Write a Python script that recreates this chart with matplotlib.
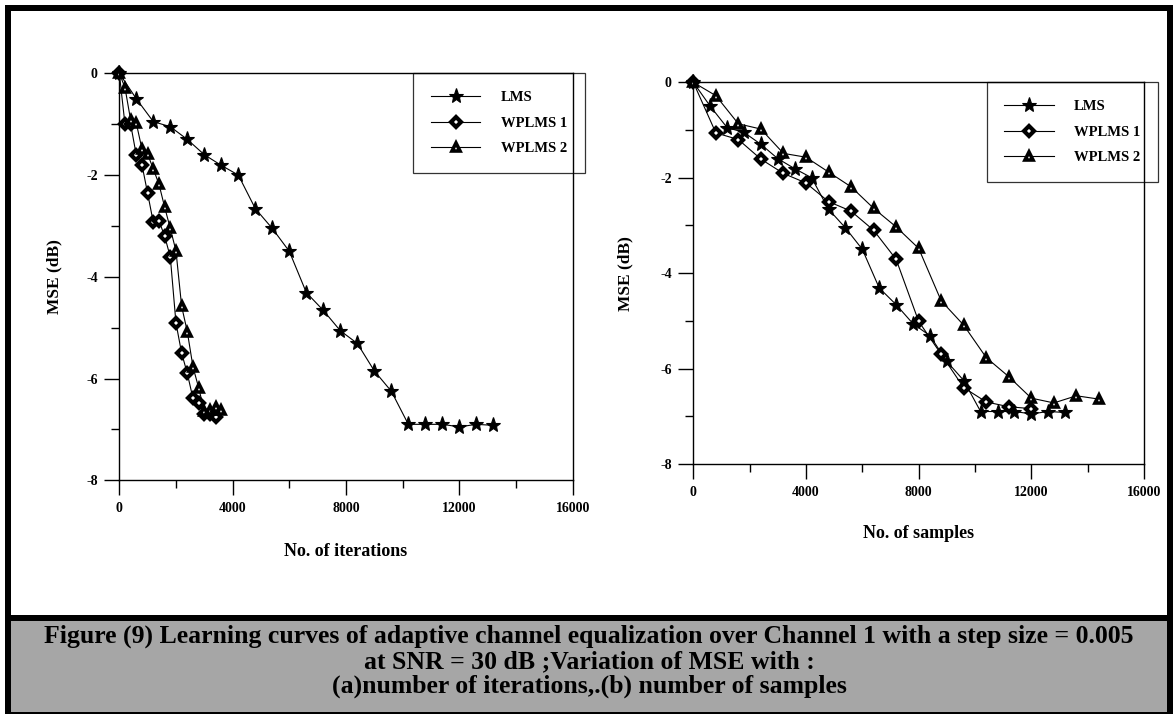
import matplotlib
matplotlib.use("Agg")
import matplotlib.pyplot as plt
from matplotlib.patches import Rectangle
from matplotlib.ticker import MultipleLocator

W, H = 1173, 714

# ---------------- data ----------------
# LMS (same curve in both panels)
lms_x = [0, 600, 1200, 1800, 2400, 3000, 3600, 4200, 4800, 5400, 6000, 6600,
         7200, 7800, 8400, 9000, 9600, 10200, 10800, 11400, 12000, 12600, 13200]
lms_y = [0, -0.50, -0.95, -1.05, -1.30, -1.60, -1.81, -2.00, -2.66, -3.05, -3.50,
         -4.31, -4.66, -5.06, -5.31, -5.85, -6.25, -6.90, -6.90, -6.90, -6.95,
         -6.90, -6.92]

# (a) iterations
it_w1_x = [0, 200, 400, 600, 800, 1000, 1200, 1400, 1600, 1800, 2000, 2200,
           2400, 2600, 2800, 3000, 3200, 3400]
it_w1_y = [0, -1.00, -1.00, -1.61, -1.80, -2.36, -2.93, -2.90, -3.20, -3.61,
           -4.91, -5.50, -5.90, -6.39, -6.49, -6.69, -6.70, -6.75]
it_w2_x = [0, 200, 400, 600, 800, 1000, 1200, 1400, 1600, 1800, 2000, 2200,
           2400, 2600, 2800, 3000, 3200, 3400, 3600]
it_w2_y = [0, -0.28, -0.92, -0.98, -1.49, -1.59, -1.88, -2.18, -2.63, -3.05,
           -3.49, -4.58, -5.08, -5.77, -6.18, -6.64, -6.62, -6.56, -6.62]

# (b) samples
sm_w1_x = [0, 800, 1600, 2400, 3200, 4000, 4800, 5600, 6400, 7200, 8000, 8800,
           9600, 10400, 11200, 12000]
sm_w1_y = [0, -1.06, -1.20, -1.61, -1.91, -2.11, -2.50, -2.70, -3.10, -3.71,
           -5.01, -5.70, -6.40, -6.70, -6.80, -6.84]
sm_w2_x = [0, 800, 1600, 2400, 3200, 4000, 4800, 5600, 6400, 7200, 8000, 8800,
           9600, 10400, 11200, 12000, 12800, 13600, 14400]
sm_w2_y = [0, -0.28, -0.87, -0.98, -1.49, -1.57, -1.88, -2.19, -2.64, -3.03,
           -3.48, -4.58, -5.09, -5.77, -6.17, -6.62, -6.72, -6.57, -6.64]

series_names = ["LMS", "WPLMS 1", "WPLMS 2"]
x_ticks = [0, 4000, 8000, 12000, 16000]
y_ticks = [-8, -6, -4, -2, 0]
x_labels = ["No. of iterations", "No. of samples"]
y_label = "MSE (dB)"
caption = ["Figure (9) Learning curves of adaptive channel equalization over Channel 1 with a step size = 0.005",
           "at SNR = 30 dB ;Variation of MSE with :",
           "(a)number of iterations,.(b) number of samples"]

# ---------------- style ----------------
plt.rcParams['font.family'] = ['Liberation Serif', 'DejaVu Serif']
plt.rcParams['font.weight'] = 'bold'
plt.rcParams['axes.labelweight'] = 'bold'

fig = plt.figure(figsize=(W / 100, H / 100), dpi=100)


def fx(px):
    return px / W


def fy(py):
    return 1 - py / H


# page frame and caption box
fig.patches.append(Rectangle((fx(5), 0), 1 - fx(5), 1 - 5 / H, transform=fig.transFigure,
                             facecolor='black', edgecolor='none', zorder=-10))
fig.patches.append(Rectangle((fx(11), fy(615)), 1156 / W, 604 / H, transform=fig.transFigure,
                             facecolor='white', edgecolor='none', zorder=-9))
fig.patches.append(Rectangle((fx(11), fy(712)), 1156 / W, 91 / H, transform=fig.transFigure,
                             facecolor='#a6a6a6', edgecolor='none', zorder=-9))

panels = [
    dict(rect=(fx(119.3), fy(480.3), 453.4 / W, 407.0 / H),
         data=[(lms_x, lms_y), (it_w1_x, it_w1_y), (it_w2_x, it_w2_y)],
         xlabel=x_labels[0], xlab_y=-0.153, ylab_x=-0.126,
         leg=(413.3, 73.3)),
    dict(rect=(fx(693.3), fy(464.0), 450.7 / W, 381.7 / H),
         data=[(lms_x, lms_y), (sm_w1_x, sm_w1_y), (sm_w2_x, sm_w2_y)],
         xlabel=x_labels[1], xlab_y=-0.160, ylab_x=-0.132,
         leg=(986.7, 82.3)),
]

styles = [
    dict(marker='*', ms=11, mfc='black', mec='black', mew=0.8),
    dict(marker='D', ms=5.0, mfc='white', mec='black', mew=3.0),
    dict(marker='^', ms=6.0, mfc='white', mec='black', mew=2.6),
]

for p in panels:
    ax = fig.add_axes(p['rect'])
    ax.set_facecolor('white')
    for (xs, ys), st, name in zip(p['data'], styles, series_names):
        ax.plot(xs, ys, color='black', lw=0.8, label=name, clip_on=False, **st)
    ax.set_xlim(0, 16000)
    ax.set_ylim(-8, 0)
    ax.set_xticks(x_ticks)
    ax.set_xticklabels([str(v) for v in x_ticks])
    ax.set_yticks(y_ticks)
    ax.set_yticklabels([str(v) for v in y_ticks])
    ax.xaxis.set_minor_locator(MultipleLocator(2000))
    ax.yaxis.set_minor_locator(MultipleLocator(1))
    ax.tick_params(which='major', direction='out', length=10.5, width=1.0,
                   labelsize=10, pad=5, top=False, right=False)
    ax.tick_params(which='minor', direction='out', length=5.5, width=1.0,
                   top=False, right=False)
    for lab in ax.get_xticklabels() + ax.get_yticklabels():
        lab.set_fontweight('bold')
    for sp in ax.spines.values():
        sp.set_linewidth(1.0)
        sp.set_color('black')
    ax.set_xlabel(p['xlabel'], fontsize=13, fontweight='bold')
    ax.xaxis.set_label_coords(0.5, p['xlab_y'])
    ax.set_ylabel(y_label, fontsize=12.5, fontweight='bold')
    ax.yaxis.set_label_coords(p['ylab_x'], 0.5)
    lx, ly = p['leg']
    leg = ax.legend(loc='upper left', bbox_to_anchor=(fx(lx), fy(ly)),
                    bbox_transform=fig.transFigure, borderaxespad=0,
                    frameon=True, fancybox=False, edgecolor='black',
                    facecolor='none', prop={'size': 10.5, 'weight': 'bold'},
                    handlelength=3.4, handletextpad=1.4, labelspacing=0.85,
                    borderpad=1.2)
    leg.get_frame().set_linewidth(0.9)

for i, line in enumerate(caption):
    fig.text(0.5 * (fx(11) + fx(1167)), fy(643 + 25 * i), line, ha='center', va='baseline',
             fontsize=18.5, fontweight='bold', color='black')

fig.savefig("out.png", dpi=100)
